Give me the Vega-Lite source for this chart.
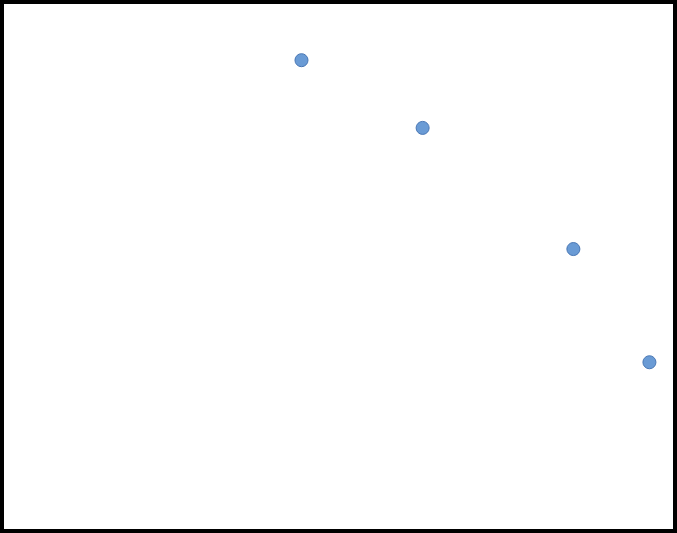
{
  "$schema": "https://vega.github.io/schema/vega-lite/v6.json",
  "width": 677,
  "height": 533,
  "autosize": {"type": "fit", "contains": "padding"},
  "padding": 2,
  "background": "white",
  "config": {"view": {"stroke": "black", "strokeWidth": 4}},
  "data": {"values": [
    {"x": 44.5, "y": 89.0},
    {"x": 62.5, "y": 76.2},
    {"x": 84.9, "y": 53.3},
    {"x": 96.2, "y": 31.9}
  ]},
  "mark": {"type": "point", "filled": true, "size": 170, "fill": "#6a9bd5", "stroke": "#4a78b5", "strokeWidth": 1, "opacity": 1, "shape": "circle"},
  "encoding": {
    "x": {"field": "x", "type": "quantitative", "scale": {"domain": [0, 100], "nice": false, "zero": false}, "axis": null},
    "y": {"field": "y", "type": "quantitative", "scale": {"domain": [0, 100], "nice": false, "zero": false}, "axis": null}
  }
}
